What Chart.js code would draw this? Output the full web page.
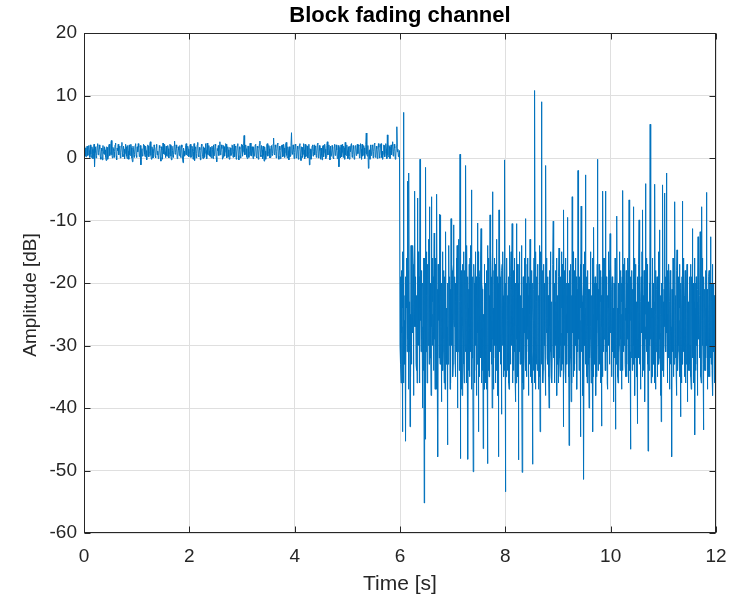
<!DOCTYPE html>
<html>
<head>
<meta charset="utf-8">
<title>Block fading channel</title>
<script src="https://cdn.jsdelivr.net/npm/chart.js@4.4.1/dist/chart.umd.min.js"></script>
<style>
  html, body { margin: 0; padding: 0; background: #fff; }
  #chart { display: block; }
</style>
</head>
<body>
<canvas id="chart" width="731" height="599"></canvas>
<script>
// Labels and axis ticks
const titleText = 'Block fading channel';
const xLabel = 'Time [s]';
const yLabel = 'Amplitude [dB]';
const xTicks = [0, 2, 4, 6, 8, 10, 12];
const yTicks = [-60, -50, -40, -30, -20, -10, 0, 10, 20];

// Before the fade: 0 - 5.99 s, one sample every 10 ms (dB), 0.4 s per row
const stepBefore = 0.01;
const ampBefore = [
    0.8, 1.9, 1.6, 0.3, 0.2, 1.7, 1.9, 0.4, 0.5, 2.0, 1.2, 0.1, 2.1, 0.6, 0.1, 1.8, 1.4, -0.1, 0.7, 2.2, -1.4, 0.9, 1.8, 0.0, 0.4, 1.9, 2.3, 0.5, 0.9, 2.1, 1.5, 0.2, -0.2, 1.6, 1.1, -0.3, 2.0, 0.7, 0.6, 1.8,
    1.3, 0.2, -0.4, 1.8, 1.7, -0.2, 0.3, 2.0, 2.2, 0.4, 0.8, 2.3, 2.8, 0.5, 0.0, 1.7, 1.5, 0.1, 1.0, 2.1, 2.4, 0.3, -0.3, 1.6, 1.2, 2.2, 0.5, 1.7, 1.9, 0.0, 0.9, 2.0, 2.5, 0.6, 0.2, 1.9, 1.4, -0.1, 0.7, 2.2,
    1.8, 0.3, -0.1, 2.0, 1.1, -0.2, 2.1, 0.5, 0.4, 2.2, 1.6, 0.0, -0.6, 1.9, 1.3, 0.1, 0.6, 2.0, 2.3, 0.4, 0.1, 1.8, 1.0, 2.3, 1.7, 0.2, 0.3, 2.0, -1.1, 1.2, 1.5, 0.3, 0.8, 2.2, 2.0, 0.6, 0.2, 1.9, 1.2, -0.3,
    0.5, 2.1, 1.9, 0.2, 0.9, 2.3, 2.6, 0.4, -0.2, 1.8, 1.4, 0.0, 0.7, 2.1, 1.8, 0.3, 0.0, 1.7, 2.2, 0.5, 1.1, -0.1, 0.4, 2.0, 1.6, 0.1, -0.5, 1.8, 1.3, -0.2, 2.4, 0.7, 0.6, 2.2, 1.0, 0.1, 1.9, 0.4, 0.3, 2.0,
    1.5, 0.0, 0.8, 2.2, 2.1, 0.3, -0.3, 1.9, 1.2, 0.1, 0.5, 2.0, 2.7, 0.6, 0.9, 2.1, 1.6, -0.1, 0.2, 1.8, 1.3, 0.4, 2.0, 0.2, 0.1, 2.1, 1.7, 0.0, -0.75, 1.6, 1.1, 0.3, 0.6, 2.0, 2.3, 0.5, 0.4, 1.9, 1.4, 0.2,
    0.9, 2.0, 2.2, 0.1, 0.3, 1.9, 1.5, -0.2, 1.0, 2.3, -0.4, 1.5, 1.8, 0.0, 0.7, 2.1, 2.5, 0.4, 0.2, 1.7, 1.3, -0.3, 0.6, 2.2, 2.0, 0.2, -0.1, 1.8, 1.6, 0.1, 0.8, 2.3, 1.2, -0.1, 2.4, 0.6, 0.5, 2.0, 1.1, 0.3,
    1.7, 0.2, 0.0, 1.9, 1.4, -0.1, 2.1, 0.4, 0.6, 2.2, 1.9, 0.1, -0.6, 1.5, 1.2, 2.0, 0.4, 1.9, 2.6, 0.5, 0.9, 2.1, 1.5, -0.2, 0.1, 2.0, 1.8, 0.3, 1.0, 2.3, 2.2, 0.0, 0.3, 1.8, 1.3, 0.2, -0.2, 1.7, 1.6, 0.4,
    0.7, 2.1, 2.0, 0.1, 1.1, 2.2, 0.2, 1.9, 1.7, -0.2, 0.8, 2.0, 2.3, 0.4, -0.3, 1.8, 1.4, 0.0, 0.5, 2.2, 2.1, 0.3, 1.0, 2.0, 3.6, 0.5, 0.6, 2.1, 1.5, 0.2, -0.1, 1.9, 1.9, 0.1, 0.9, 2.3, 2.4, 0.4, 0.3, 1.8,
    1.2, -0.1, 1.8, 0.3, 0.4, 2.1, 2.2, 0.2, 0.0, 1.9, 1.6, -0.2, 0.8, 2.2, 2.7, 0.5, 0.2, 2.0, 1.3, -0.1, 1.9, 0.4, -0.5, 1.8, 1.1, -0.2, 0.6, 2.1, 2.3, 0.3, 0.9, 2.0, 1.5, 0.0, 0.1, 1.9, 2.0, 0.4, 0.7, 2.2,
    3.2, 0.6, 0.5, 2.1, 1.7, 0.0, 1.0, 2.2, 2.4, 0.3, -0.2, 1.9, 1.3, -0.1, 0.8, 2.0, 2.1, 0.2, 0.3, 2.2, 1.6, 0.1, 0.9, 2.3, 2.5, 0.4, 0.0, 1.8, 1.2, -0.3, 1.8, 0.2, 0.4, 2.0, 4.05, 0.8, 0.6, 2.1, 1.4, -0.1,
    0.9, 2.2, 2.0, 0.0, 0.2, 1.9, 1.5, -0.2, 1.1, 2.1, 2.3, 0.3, -0.4, 1.8, 1.7, 0.1, 0.6, 2.3, 1.3, -0.1, 2.2, 0.2, 0.4, 2.0, 1.9, 0.0, 0.8, 2.2, -1.1, 1.5, 1.4, -0.2, 0.1, 1.9, 2.1, 0.3, 1.0, 2.1, 0.5, 1.9,
    1.8, 0.1, 0.7, 2.2, 2.4, 0.0, 0.3, 2.0, 1.2, -0.2, 1.6, 0.4, -0.3, 1.9, 2.0, 0.2, 0.9, 2.2, 1.4, -0.1, 0.2, 2.0, 2.6, 0.5, 0.6, 2.1, 1.1, -0.3, 1.9, 0.3, 0.4, 2.0, 1.5, 0.0, -0.1, 1.8, 2.2, 0.4, 0.8, 2.1,
    1.3, -0.1, 0.5, 2.0, -1.4, 1.3, 1.7, 0.0, 2.1, 0.2, 0.9, 2.2, 0.1, 1.9, 1.6, -0.2, 2.5, 0.5, 0.4, 2.1, 1.2, -0.1, 1.8, 0.3, -0.2, 1.9, 1.0, 2.2, 2.3, 0.1, 0.6, 2.0, 1.5, -0.2, 0.3, 1.9, 2.0, 0.4, 1.1, 2.2,
    0.7, 2.1, 1.9, 0.0, 0.2, 2.3, 1.4, -0.2, 2.2, 0.3, 0.5, 2.0, 1.6, -0.1, 0.9, 2.2, 4.0, 0.6, 0.3, 2.0, -1.65, 1.1, 1.3, -0.2, 2.1, 0.4, 0.6, 2.1, 1.8, 0.0, 1.0, 2.2, 2.4, 0.2, 0.1, 1.9, 1.5, -0.1, 0.8, 2.3,
    1.7, 0.0, 0.4, 2.2, 2.3, 0.1, 1.1, -0.2, 0.6, 2.1, 2.0, 0.2, 0.9, 2.3, 1.5, -0.1, 3.7, 0.5, 0.2, 2.0, 1.8, -0.1, 1.2, 2.1, 0.5, 2.0, 2.6, 0.3, 1.0, 2.2, 1.6, -0.2, 0.3, 1.9, 5.0, 1.0, 1.4, 0.2, 0.6, 1.2
];

// After the fade: 6.000 - 11.995 s, one sample every 5 ms (dB), 0.1 s per row
const startAfter = 6;
const stepAfter = 0.005;
const ampAfter = [
    -30, -19, -22, -33, -36, -21, -18, -28, -27, -15, -43.8, -24, -20, -36, 7.3, -26, -26, -30, -33, -22,
    -19, -34, -45.3, -20, -24, -16, -16, -31, -3.7, -27, -29, -18, -21, -37, -2.4, -25, -31, -23, -43, -29,
    -25, -35, -14, -30, -33, -17, -20, -26, -28, -14, -17, -32, -38, -21, -22, -27, -5.3, -24, -27, -20,
    -19, -33, -34, -22, -24, -36, -6.4, -28, -30, -15, -15, -30, -26, -19, -36, -24, -0.2, -26, -23, -21,
    -31, -18, -18, -29, -27, -23, -40, -20, -21, -34, -29, -16, -55.2, -25, -16, -37, -45, -27, -1.5, -31,
    -28, -15, -22, -36, -35, -21, -17, -30, -26, -19, -13, -33, -7.8, -24, -32, -22, -20, -28, -38, -26,
    -6.2, -27, -25, -16, -30, -23, -19, -34, -34, -20, -12, -29, -24, -37, -29, -18, -16, -31, -37, -25,
    -5.8, -30, -21, -35, -47.8, -17, -26, -24, -18, -32, -9, -27, -33, -14, -9.1, -21, -23, -26, -39, -20,
    -27, -16, -15, -34, -31, -18, -22, -29, -36, -23, -19, -37, -28, -20, -11.8, -31, -24, -25, -33, -27,
    -45.9, -24, -20, -33, -29, -15, -14, -30, -26, -19, -37, -22, -21, -36, -9.7, -28, -30, -17, -18, -26,
    -25, -35, -33, -17, -10.7, -26, -27, -21, -19, -32, -35, -20, -23, -30, -16, -24, -31, -14, -40, -27,
    -22, -31, -28, -16, -13, -34, -34, -23, 0.6, -25, -48.1, -19, -20, -37, -26, -18, -38, -29, -17, -27,
    -29, -15, -23, -33, -36, -21, -18, -30, -31, -22, -1.2, -26, -25, -36, -14, -28, -33, -19, -48.2, -24,
    -21, -34, -27, -17, -35, -20, -16, -31, -30, -14, -24, -37, -5.1, -26, -32, -23, -19, -29, -50.2, -25,
    -26, -17, -20, -36, -34, -22, -15, -30, -29, -19, -38, -24, -22, -33, -10.4, -28, -28, -15, -43.8, -21,
    -24, -35, -31, -19, -18, -32, -27, -16, -11.3, -29, -36, -20, -21, -34, -30, -23, -46.5, -26, -25, -37,
    -17, -30, -33, -21, -26, -36, -20, -28, -37, -18, -23, -32, -48.9, -24, -14, -34, -29, -16, -35, -22,
    -22, -35, -9.1, -26, -31, -15, -19, -33, -27, -20, -40, -24, -5.4, -29, -24, -37, -32, -18, -16, -30,
    -28, -17, -36, -22, -21, -34, -13, -27, -30, -19, -25, -33, -38, -20, -47.8, -26, -8.3, -31, -26, -16,
    -19, -32, -33, -21, -24, -36, -41, -18, -17, -30, -29, -15, -22, -27, -35, -23, -27, -34, -0.3, -25,
    -53.4, -20, -23, -35, -30, -17, -16, -28, -34, -22, -26, -31, -19, -36, -37, -24, -25, -14, -21, -33,
    -32, -19, -15, -30, -28, -21, -10.5, -26, -36, -18, -24, -34, -18, -29, -31, -16, -27, -35, -39, -23,
    -20, -36, -10.5, -24, -29, -17, -23, -32, -35, -20, -48.3, -27, -17, -31, -26, -15, -33, -22, -22, -28,
    -30, -18, -14, -33, -50.3, -24, -25, -36, -19, -27, -37, -21, -28, -16, -21, -32, -9.7, -26, -34, -20,
    -24, -35, -31, -17, -16, -29, -27, -22, -38, -19, -20, -33, -29, -25, -13, -30, -35, -21, -23, -36,
    -18, -31, -32, -20, -49, -24, -26, -34, -21, -16, -36, -27, 10.8, -23, -28, -37, -15, -29, -33, -19,
    -23, -34, -30, -17, -19, -32, -37, -22, -25, -35, -14, -28, -43.8, -21, -27, -15, -20, -33, 9, -26,
    -31, -18, -22, -36, -34, -24, -17, -30, -29, -20, -26, -33, -38, -21, -1.2, -27, -28, -16, -24, -32,
    -19, -30, -33, -22, -25, -35, -40, -18, -21, -27, -28, -15, -16, -31, -35, -24, -23, -36, -30, -20,
    -27, -17, -10.1, -29, -32, -21, -20, -34, -36, -23, -24, -30, -18, -26, -29, -16, -38, -25, -22, -33,
    -26, -36, -31, -19, -14.4, -27, -23, -32, -35, -21, -19, -30, -28, -15, -34, -24, -17, -33, -25, -22,
    -43, -23, -8.3, -29, -30, -18, -21, -34, -27, -16, -36, -25, -20, -31, -33, -22, -9.5, -28, -24, -35,
    -29, -20, -46, -26, -18, -33, -32, -17, -25, -30, -39, -23, -22, -36, -6.2, -27, -28, -15, -35, -21,
    -20, -34, -27, -18, -33, -22, -16, -29, -30, -19, -24, -35, -37, -25, -21, -31, -2, -26, -29, -16,
    -34, -21, -19, -32, -26, -17, -44.6, -24, -7.7, -28, -31, -20, -23, -36, -38, -22, -17, -30, -51.4, -25,
    -25, -15, -30, -24, -2.7, -33, -22, -29, -35, -19, -28, -36, -18, -27, -33, -21, -26, -31, -40, -23,
    -21, -32, -29, -18, -15, -27, -36, -22, -24, -34, -31, -16, -43.8, -25, -19, -35, -11.1, -28, -27, -20,
    -33, -19, -23, -31, -38, -24, -20, -35, -28, -17, -0.2, -26, -34, -21, -25, -30, -17, -33, -30, -22,
    -26, -18, -36, -23, -22, -32, -42.9, -27, -19, -35, -5.3, -25, -31, -16, -24, -29, -29, -20, -16, -34,
    -5.3, -28, -34, -19, -27, -31, -21, -36, -37, -22, -25, -15, -30, -24, -18, -33, -33, -20, -12.1, -27,
    -28, -17, -23, -34, -35, -21, -19, -30, -31, -24, -26, -36, -39, -20, -22, -32, -29, -16, -43.4, -25,
    -17, -33, -32, -19, -9.3, -28, -24, -35, -36, -22, -20, -31, -30, -15, -27, -25, -34, -18, -21, -29,
    -25, -20, -37, -23, -19, -34, -5.2, -27, -31, -17, -23, -30, -28, -21, -16, -33, -35, -24, -26, -18,
    -22, -35, -33, -20, -29, -16, -18, -31, -36, -25, -6.7, -28, -24, -34, -31, -19, -46.6, -26, -20, -32,
    -27, -18, -34, -22, -21, -33, -7.8, -29, -30, -16, -25, -36, -38, -20, -17, -31, -32, -24, -23, -35,
    -29, -19, -42.5, -24, -20, -32, -26, -17, -9.9, -30, -33, -21, -24, -35, -37, -23, -19, -28, -28, -15,
    -35, -20, -8.3, -31, -22, -34, -30, -18, -26, -24, -39, -27, -4.1, -29, -25, -16, -31, -22, -18, -33,
    -27, -17, -46.9, -25, -23, -33, -34, -21, -20, -30, 5.4, -26, -29, -19, -36, -24, -24, -35, -31, -16,
    -17, -32, -28, -20, -33, -23, -22, -36, -4.2, -27, -37, -18, -25, -31, -30, -21, -19, -34, -35, -24,
    -26, -15, -21, -33, -32, -19, -11.5, -29, -28, -22, -38, -25, -42.2, -20, -24, -34, -30, -18, -4.3, -27,
    -23, -35, -34, -21, -27, -16, -5.6, -30, -19, -26, -31, -22, -2.4, -28, -25, -33, -36, -18, -21, -32,
    -29, -17, -24, -34, -37, -23, -18, -30, -33, -20, -27, -36, -47.8, -21, -22, -31, -30, -16, -35, -25,
    -20, -33, -28, -19, -7, -26, -32, -22, -25, -35, -38, -18, -14.7, -29, -23, -34, -31, -21, -19, -30,
    -26, -17, -35, -24, -21, -32, -41.4, -20, -29, -36, -24, -19, -6.9, -27, -33, -16, -18, -31, -30, -22,
    -27, -35, -22, -18, -36, -26, -25, -33, -31, -20, -17, -29, -39, -21, -28, -34, -23, -30, -34, -19,
    -21, -33, -30, -17, -26, -35, -37, -22, -19, -28, -11.3, -31, -32, -20, -24, -36, -35, -23, -28, -16,
    -44.3, -24, -20, -34, -33, -19, -27, -30, -23, -36, -38, -21, -12.6, -28, -29, -17, -25, -32, -31, -22,
    -11.8, -29, -22, -35, -36, -20, -7.8, -26, -30, -16, -26, -33, -43.5, -23, -19, -31, -34, -21, -24, -34,
    -28, -18, -32, -24, -5.5, -30, -21, -33, -37, -22, -25, -35, -30, -19, -18, -27, -35, -23, -27, -32,
    -12.6, -26, -33, -20, -23, -34, -29, -17, -38, -25, -20, -31, -31, -22, -26, -35, -36, -24, -43, -30
];

// Build the (time, amplitude) pairs
const points = [];
ampBefore.forEach((v, i) => points.push({ x: +(i * stepBefore).toFixed(3), y: v }));
ampAfter.forEach((v, i) => points.push({ x: +(startAfter + i * stepAfter).toFixed(3), y: v }));

const FONT = "'Liberation Sans', Arial, Helvetica, sans-serif";
const AXIS_COLOR = '#262626';
const GRID_COLOR = '#dfdfdf';

// Box around the plot with inward ticks on all four sides, plus title and axis labels
const boxTicks = {
    id: 'boxTicks',
    afterDatasetsDraw(chart) {
        const { ctx, chartArea: a, scales: { x, y } } = chart;
        const len = 6;
        const L = Math.round(a.left) + 0.5, R = Math.round(a.right) - 0.5;
        const T = Math.round(a.top) + 0.5, B = Math.round(a.bottom) - 0.5;
        ctx.save();
        ctx.strokeStyle = AXIS_COLOR;
        ctx.lineWidth = 1;
        ctx.beginPath();
        xTicks.forEach(t => {
            const px = Math.round(x.getPixelForValue(t)) + 0.5;
            ctx.moveTo(px, B); ctx.lineTo(px, B - len);
            ctx.moveTo(px, T); ctx.lineTo(px, T + len);
        });
        yTicks.forEach(t => {
            const py = Math.round(y.getPixelForValue(t)) + 0.5;
            ctx.moveTo(L, py); ctx.lineTo(L + len, py);
            ctx.moveTo(R, py); ctx.lineTo(R - len, py);
        });
        ctx.stroke();
        ctx.strokeRect(L, T, R - L, B - T);

        const cx = (a.left + a.right) / 2;
        ctx.textAlign = 'center';
        ctx.textBaseline = 'middle';
        ctx.fillStyle = '#000';
        ctx.font = 'bold 22px ' + FONT;
        ctx.fillText(titleText, cx, 16);

        ctx.fillStyle = AXIS_COLOR;
        ctx.font = '21px ' + FONT;
        ctx.fillText(xLabel, cx, 584);
        ctx.font = '19px ' + FONT;
        ctx.translate(31, (a.top + a.bottom) / 2 + 12);
        ctx.rotate(-Math.PI / 2);
        ctx.fillText(yLabel, 0, 0);
        ctx.restore();
    }
};

new Chart(document.getElementById('chart'), {
    type: 'line',
    data: {
        datasets: [{
            data: points,
            borderColor: '#0072BD',
            borderWidth: 1,
            pointRadius: 0,
            tension: 0,
            fill: false
        }]
    },
    options: {
        responsive: false,
        animation: false,
        devicePixelRatio: 1,
        layout: { padding: { left: 0, right: 15, top: 33, bottom: 0 } },
        plugins: {
            legend: { display: false },
            tooltip: { enabled: false },
            title: { display: false }
        },
        scales: {
            x: {
                type: 'linear',
                min: 0,
                max: 12,
                afterBuildTicks: s => { s.ticks = xTicks.map(v => ({ value: v })); },
                afterFit: s => { s.height = 66; s.paddingLeft = 0; s.paddingRight = 0; },
                ticks: { color: AXIS_COLOR, font: { family: FONT, size: 19 }, padding: 12, maxRotation: 0, autoSkip: false },
                grid: { color: GRID_COLOR, drawTicks: false },
                border: { display: false }
            },
            y: {
                type: 'linear',
                min: -60,
                max: 20,
                afterBuildTicks: s => { s.ticks = yTicks.map(v => ({ value: v })); },
                afterFit: s => { s.width = 84; s.paddingTop = 0; s.paddingBottom = 0; },
                ticks: { color: AXIS_COLOR, font: { family: FONT, size: 19 }, padding: 7, autoSkip: false },
                grid: { color: GRID_COLOR, drawTicks: false },
                border: { display: false }
            }
        }
    },
    plugins: [boxTicks]
});
</script>
</body>
</html>
